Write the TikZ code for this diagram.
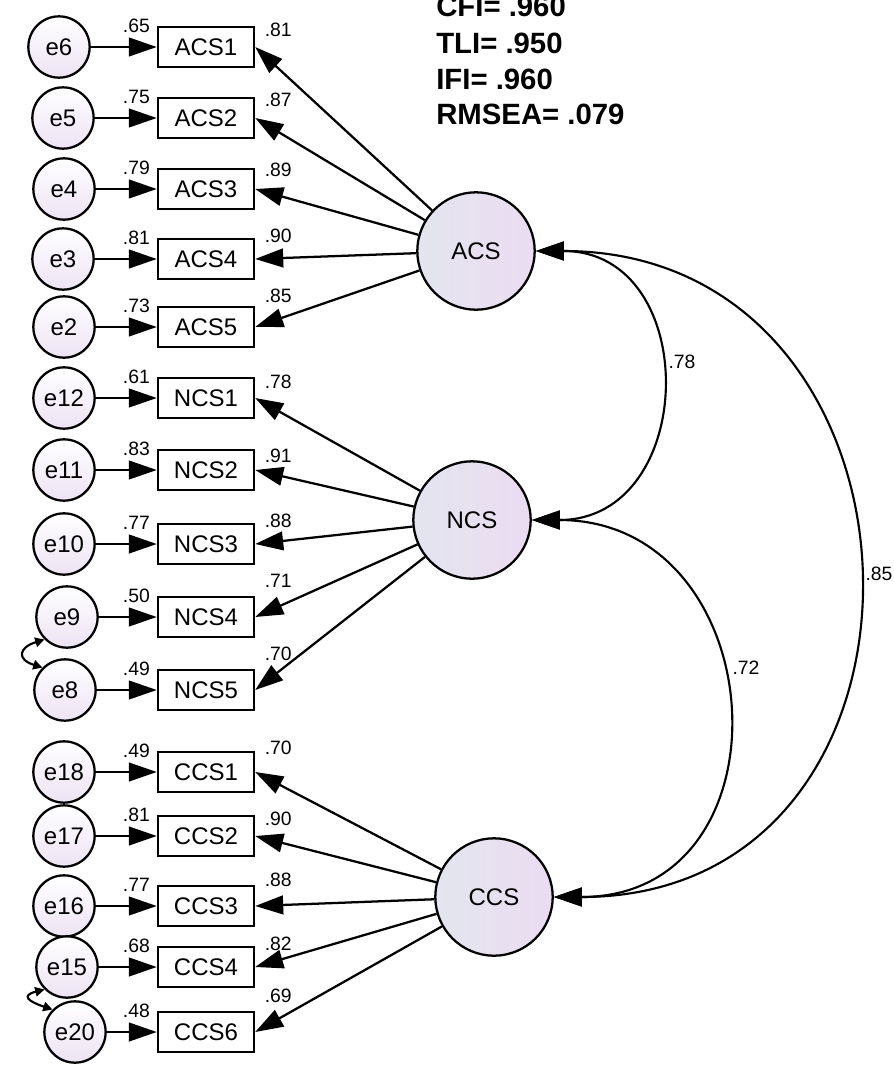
\documentclass[tikz,border=0pt]{standalone}
\usepackage{fontspec}
\setmainfont{Liberation Sans}
\usepackage{tikz}
\usetikzlibrary{
  arrows.meta,
  positioning, calc
}
\definecolor{lavleft}  {HTML}{E3E5EF}
\definecolor{lavright} {HTML}{EBDCF2}
\definecolor{errtint}  {HTML}{EDE3F4}
\tikzset{
  latent/.style={
    circle, draw=black, line width=1.7pt,
    minimum size=88pt, inner sep=0pt,
    left color=lavleft, right color=lavright,
    font=\fontsize{18}{20}\selectfont
  },
  errnode/.style={
    circle, draw=black, line width=1.7pt,
    minimum size=46pt, inner sep=0pt,
    top color=white, bottom color=errtint,
    font=\fontsize{18}{20}\selectfont
  },
  indbox/.style={
    rectangle, draw=black, line width=1.8pt,
    minimum width=72pt, minimum height=30pt, inner sep=0pt,
    fill=white, font=\fontsize{18}{20}\selectfont
  },
  estlabel/.style={font=\fontsize{14.5}{16}\selectfont, inner sep=0pt},
  fitlabel/.style={font=\fontsize{22}{26}\selectfont\bfseries, anchor=west, inner sep=0pt},
  regarrow/.style={-{Triangle[length=21pt,width=14pt]}, line width=1.7pt},
  covarrow/.style={{Triangle[length=21pt,width=14pt]}-{Triangle[length=21pt,width=14pt]},
                   line width=1.6pt},
  smallcov/.style={{Triangle[length=7pt,width=7pt]}-{Triangle[length=7pt,width=7pt]},
                   line width=1.6pt}
}

\begin{document}
\begin{tikzpicture}[x=0.75pt, y=-0.75pt]
  \useasboundingbox (0,0) rectangle (893,1071);

  % fit indices
  \node[fitlabel] (cfi)   at (436,6)   {CFI= .960};
  \node[fitlabel] (tli)   at (436,43)  {TLI= .950};
  \node[fitlabel] (ifi)   at (436,79)  {IFI= .960};
  \node[fitlabel] (rmsea) at (436,114) {RMSEA= .079};

  % latent factors
  \node[latent] (ACS) at (476,251) {ACS};
  \node[latent] (NCS) at (472,520) {NCS};
  \node[latent] (CCS) at (494,897) {CCS};

  % indicators, error terms, estimates
  \foreach \ind/\eterm/\yy/\ex/\rsq/\lam/\ly in {
      ACS1/e6/47/59/.65/.81/-3,     ACS2/e5/118/63/.75/.87/-2,
      ACS3/e4/189/64/.79/.89/-1.5,  ACS4/e3/259/63/.81/.90/1.5,
      ACS5/e2/327/64/.73/.85/7.5,   NCS1/e12/398/64/.61/.78/-4,
      NCS2/e11/470/64/.83/.91/-5,   NCS3/e10/544/64/.77/.88/1.5,
      NCS4/e9/617/67/.50/.71/11,    NCS5/e8/690/65/.49/.70/11,
      CCS1/e18/772/64/.49/.70/2,    CCS2/e17/836/64/.81/.90/-3,
      CCS3/e16/906/64/.77/.88/4,    CCS4/e15/967/67/.68/.82/1.5,
      CCS6/e20/1032/75/.48/.69/11}{
    \node[indbox] (\ind) at (206,\yy) {\ind};
    \node[errnode] (\eterm) at (\ex,\yy) {\eterm};
    \node[estlabel, anchor=east, xshift=-5pt] (r\ind) at (\ind.north west) {\rsq};
    \node[estlabel, anchor=west, xshift=7pt, yshift=\ly pt] (l\ind) at (\ind.north east) {\lam};
    \draw[regarrow] (\eterm) -- (\ind);
  }

  \foreach \lat/\ind in {ACS/ACS1, ACS/ACS2, ACS/ACS3, ACS/ACS4, ACS/ACS5,
                         NCS/NCS1, NCS/NCS2, NCS/NCS3, NCS/NCS4, NCS/NCS5,
                         CCS/CCS1, CCS/CCS2, CCS/CCS3, CCS/CCS4, CCS/CCS6}{
    \draw[regarrow] (\lat) -- (\ind.east);
  }

  % factor covariances
  \draw[covarrow] (ACS.east) .. controls +(167,0) and +(167,0) .. (NCS.east);
  \draw[covarrow] (NCS.east) .. controls +(243,0) and +(243,0) .. (CCS.east);
  \draw[covarrow] (ACS.east) .. controls +(415,0) and +(415,0) .. (CCS.east);
  \node[estlabel] (cAN) at (682,362) {.78};
  \node[estlabel] (cNC) at (746,668) {.72};
  \node[estlabel] (cAC) at (879,574) {.85};

  % error covariances
  \draw[smallcov] (e9.south west) .. controls +(-26,8) and +(-26,-8) .. (e8.north west);
  \draw[smallcov] (e15.south west) .. controls +(-24,6) and +(-24,-8) .. (e20.north west);

\end{tikzpicture}
\end{document}
